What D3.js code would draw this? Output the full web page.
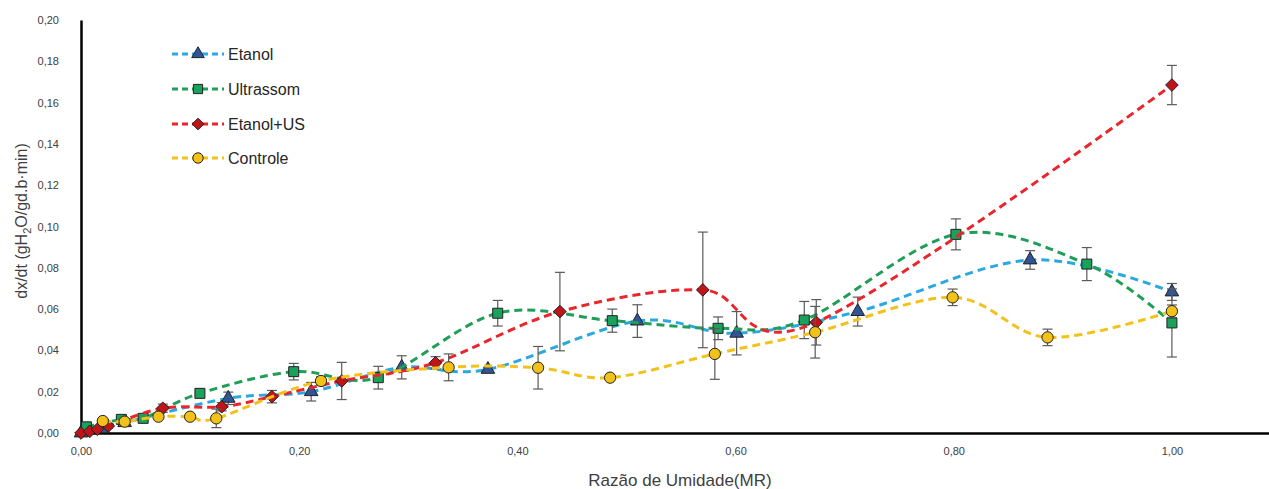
<!DOCTYPE html>
<html>
<head>
<meta charset="utf-8">
<script src="https://cdn.jsdelivr.net/npm/d3@7"></script>
<style>
  html, body { margin: 0; padding: 0; background: #fff; }
  svg { display: block; }
  text { font-family: "Liberation Sans", Arial, sans-serif; }
</style>
</head>
<body>
<svg id="chart" width="1269" height="489"></svg>
<script>
// Drying-rate curves: dx/dt versus moisture ratio, four pretreatments.
const seriesNames = ["Etanol", "Ultrassom", "Etanol+US", "Controle"];

const etanolX   = [0.000, 0.020, 0.040, 0.135, 0.211, 0.294, 0.373, 0.510, 0.601, 0.712, 0.870, 1.000];
const etanolY   = [0.000, 0.002, 0.005, 0.0168, 0.0200, 0.0318, 0.0308, 0.0542, 0.0483, 0.0588, 0.0838, 0.0683];
const etanolErr = [0.000, 0.001, 0.001, 0.003, 0.0045, 0.0056, 0.001, 0.0079, 0.0105, 0.007, 0.0045, 0.0041];

const ultraX    = [0.005, 0.037, 0.057, 0.109, 0.195, 0.2725, 0.382, 0.487, 0.584, 0.663, 0.802, 0.922, 1.000];
const ultraY    = [0.0030, 0.0066, 0.0071, 0.0192, 0.0297, 0.0268, 0.0580, 0.0544, 0.0507, 0.0547, 0.0962, 0.0818, 0.0533];
const ultraErr  = [0.001, 0.001, 0.001, 0.002, 0.004, 0.0055, 0.0062, 0.0056, 0.0055, 0.009, 0.0075, 0.008, 0.0165];

const usX       = [0.000, 0.008, 0.015, 0.025, 0.075, 0.129, 0.175, 0.239, 0.325, 0.439, 0.570, 0.674, 1.000];
const usY       = [0.000, 0.0008, 0.0018, 0.0034, 0.0120, 0.0127, 0.0176, 0.0252, 0.0340, 0.0588, 0.0693, 0.0536, 0.1685];
const usErr     = [0.000, 0.000, 0.000, 0.001, 0.002, 0.002, 0.003, 0.009, 0.003, 0.019, 0.028, 0.011, 0.0095];

const ctrlX     = [0.020, 0.040, 0.071, 0.100, 0.124, 0.220, 0.337, 0.419, 0.485, 0.581, 0.673, 0.799, 0.886, 1.000];
const ctrlY     = [0.0058, 0.0055, 0.0079, 0.0079, 0.0071, 0.0252, 0.0318, 0.0316, 0.0268, 0.0383, 0.0488, 0.0657, 0.0463, 0.0590];
const ctrlErr   = [0.001, 0.001, 0.001, 0.001, 0.0045, 0.002, 0.0065, 0.0103, 0.001, 0.0123, 0.0125, 0.004, 0.004, 0.003];

const xTicks = [0, 0.2, 0.4, 0.6, 0.8, 1.0];
const yTicks = [0, 0.02, 0.04, 0.06, 0.08, 0.10, 0.12, 0.14, 0.16, 0.18, 0.20];

const lineColors   = ["#2aa8df", "#1f9e57", "#e8262b", "#f2c21b"];
const markerFills  = ["#2f5597", "#1aa15c", "#c0141b", "#f2c21b"];

// Marker shapes: triangle, square, square turned 45° (diamond), circle
const diamond = {
  draw(ctx, size) {
    const r = Math.sqrt(size / 2);
    ctx.moveTo(0, -r); ctx.lineTo(r, 0); ctx.lineTo(0, r); ctx.lineTo(-r, 0); ctx.closePath();
  }
};
const markerShapes = [d3.symbolTriangle, d3.symbolSquare, diamond, d3.symbolCircle];
const markerSizes  = [80, 100, 80, 100];

const series = [
  { x: etanolX, y: etanolY, e: etanolErr },
  { x: ultraX,  y: ultraY,  e: ultraErr },
  { x: usX,     y: usY,     e: usErr },
  { x: ctrlX,   y: ctrlY,   e: ctrlErr }
].map((s, i) => ({
  name: seriesNames[i],
  points: s.x.map((xv, j) => ({ x: xv, y: s.y[j], e: s.e[j] }))
}));

const svg = d3.select("#chart");
const plotLeft = 81, plotRight = 1269, plotTop = 20, plotBottom = 433;

const x = d3.scaleLinear().domain([0, 1.089]).range([plotLeft, plotRight]);
const y = d3.scaleLinear().domain([0, 0.20]).range([plotBottom, plotTop]);

const locale = d3.formatLocale({ decimal: ",", thousands: ".", grouping: [3], currency: ["", ""] });
const fmt = locale.format(".2f");

// Axes
const xAxis = svg.append("g")
  .attr("transform", `translate(0,${plotBottom})`)
  .call(d3.axisBottom(x).tickValues(xTicks).tickSize(0).tickPadding(14).tickFormat(fmt));
xAxis.select(".domain").attr("stroke", "#000").attr("stroke-width", 2.5);
xAxis.selectAll("text").attr("font-size", 11).attr("fill", "#404040");

const yAxis = svg.append("g")
  .attr("transform", `translate(${plotLeft},0)`)
  .call(d3.axisLeft(y).tickValues(yTicks).tickSize(0).tickPadding(22).tickFormat(fmt));
yAxis.select(".domain").attr("stroke", "#000").attr("stroke-width", 2.5);
yAxis.selectAll("text").attr("font-size", 11).attr("fill", "#404040");

// Axis titles
svg.append("text")
  .attr("x", 680).attr("y", 486)
  .attr("text-anchor", "middle")
  .attr("font-size", 17).attr("fill", "#404040")
  .text("Razão de Umidade(MR)");

const yTitle = svg.append("text")
  .attr("transform", "translate(27,221) rotate(-90)")
  .attr("text-anchor", "middle")
  .attr("font-size", 16).attr("fill", "#404040");
yTitle.append("tspan").text("dx/dt (gH");
yTitle.append("tspan").attr("font-size", 11).attr("dy", 4).text("2");
yTitle.append("tspan").attr("dy", -4).text("O/gd.b·min)");

// Smoothed dashed lines
const line = d3.line()
  .x(d => x(d.x)).y(d => y(d.y))
  .curve(d3.curveCardinal.tension(0));

const plot = svg.append("g");

series.forEach((s, i) => {
  const g = plot.append("g");
  g.append("path")
    .datum(s.points)
    .attr("fill", "none")
    .attr("stroke", lineColors[i])
    .attr("stroke-width", 3)
    .attr("stroke-dasharray", "8,5")
    .attr("d", line);

  // Error bars
  const eb = g.selectAll(".eb").data(s.points.filter(p => p.e > 0)).join("g");
  eb.append("line")
    .attr("x1", d => x(d.x)).attr("x2", d => x(d.x))
    .attr("y1", d => y(d.y + d.e)).attr("y2", d => y(d.y - d.e))
    .attr("stroke", "#5a5a5a").attr("stroke-width", 1.2);
  eb.append("line")
    .attr("x1", d => x(d.x) - 5).attr("x2", d => x(d.x) + 5)
    .attr("y1", d => y(d.y + d.e)).attr("y2", d => y(d.y + d.e))
    .attr("stroke", "#5a5a5a").attr("stroke-width", 1.2);
  eb.append("line")
    .attr("x1", d => x(d.x) - 5).attr("x2", d => x(d.x) + 5)
    .attr("y1", d => y(d.y - d.e)).attr("y2", d => y(d.y - d.e))
    .attr("stroke", "#5a5a5a").attr("stroke-width", 1.2);

  // Markers
  g.selectAll(".mk").data(s.points).join("path")
    .attr("transform", d => `translate(${x(d.x)},${y(d.y)})`)
    .attr("d", d3.symbol().type(markerShapes[i]).size(markerSizes[i]))
    .attr("fill", markerFills[i])
    .attr("stroke", "#222")
    .attr("stroke-width", 1);
});

// Legend
const legend = svg.append("g");
const legendY = [54, 89, 124, 158];
seriesNames.forEach((name, i) => {
  const row = legend.append("g").attr("transform", `translate(0,${legendY[i]})`);
  row.append("line")
    .attr("x1", 172).attr("x2", 224).attr("y1", 0).attr("y2", 0)
    .attr("stroke", lineColors[i]).attr("stroke-width", 3)
    .attr("stroke-dasharray", "6,4");
  row.append("path")
    .attr("transform", "translate(198,0)")
    .attr("d", d3.symbol().type(markerShapes[i]).size(markerSizes[i] * 0.85))
    .attr("fill", markerFills[i]).attr("stroke", "#222").attr("stroke-width", 1);
  row.append("text")
    .attr("x", 228).attr("y", 6)
    .attr("font-size", 16).attr("fill", "#262626")
    .text(name);
});
</script>
</body>
</html>
